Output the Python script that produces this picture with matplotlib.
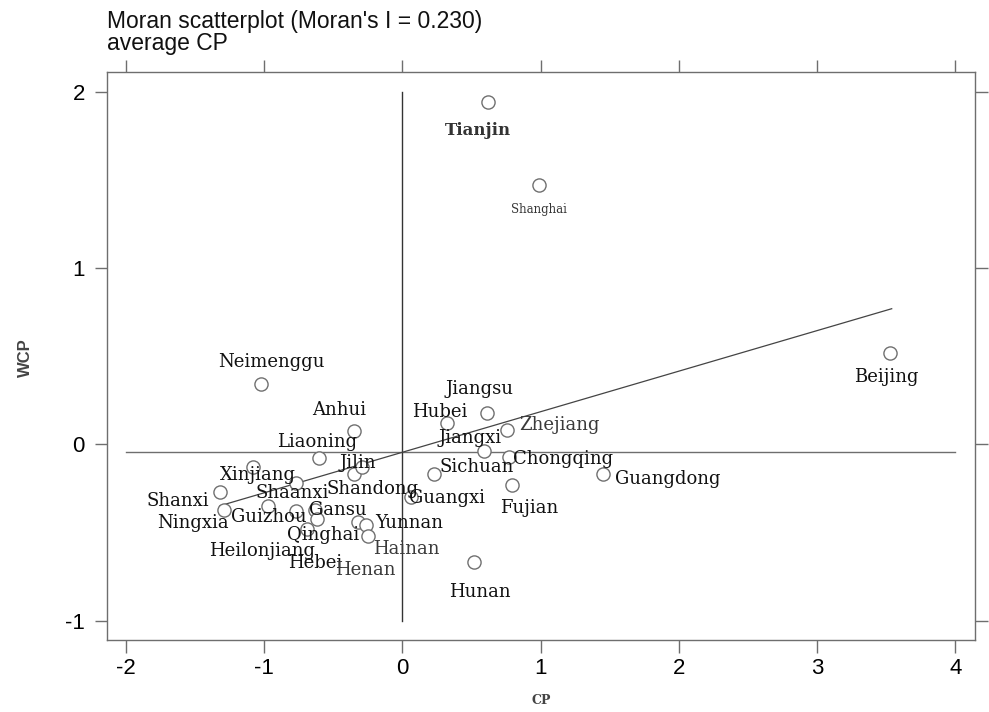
import numpy as np
import matplotlib
matplotlib.use("Agg")
from matplotlib import pyplot as plt

plt.rcParams["axes.unicode_minus"] = False

# standardised CP and its spatial lag WCP for each province
provinces = ["Tianjin", "Shanghai", "Beijing", "Neimenggu", "Anhui", "Liaoning",
             "Xinjiang", "Shaanxi", "Shanxi", "Ningxia", "Guizhou", "Heilonjiang",
             "Gansu", "Hebei", "Jilin", "Shandong", "Qinghai", "Yunnan", "Hainan",
             "Henan", "Guangxi", "Sichuan", "Hunan", "Jiangsu", "Hubei", "Zhejiang",
             "Jiangxi", "Chongqing", "Fujian", "Guangdong"]
cp = [0.62, 0.99, 3.53, -1.02, -0.35, -0.60,
      -1.08, -0.77, -1.32, -1.29, -0.97, -0.77,
      -0.63, -0.62, -0.35, -0.29, -0.69, -0.32, -0.26,
      -0.25, 0.06, 0.23, 0.52, 0.61, 0.32, 0.76,
      0.59, 0.77, 0.79, 1.45]
wcp = [1.94, 1.47, 0.52, 0.34, 0.075, -0.075,
       -0.13, -0.22, -0.27, -0.375, -0.35, -0.38,
       -0.37, -0.425, -0.17, -0.13, -0.48, -0.44, -0.46,
       -0.52, -0.30, -0.17, -0.67, 0.18, 0.12, 0.08,
       -0.04, -0.07, -0.23, -0.17]

moran_i = 0.230
wcp_mean = -0.045
xticks = [-2, -1, 0, 1, 2, 3, 4]
yticks = [-1, 0, 1, 2]

# where each name sits relative to its point (pixels, y up)
label_offset = {
    "Tianjin": (-10, -28), "Shanghai": (0, -24), "Beijing": (-4, -24),
    "Neimenggu": (10, 22), "Anhui": (-15, 21), "Liaoning": (-2, 16),
    "Xinjiang": (5, -8), "Shaanxi": (-4, -10), "Shanxi": (-42, -9),
    "Ningxia": (-31, -13), "Guizhou": (0, -11), "Heilonjiang": (-34, -40),
    "Gansu": (22, 0), "Hebei": (-2, -44), "Jilin": (4, 11),
    "Shandong": (10, -22), "Qinghai": (16, -6), "Yunnan": (51, -1),
    "Hainan": (40, -24), "Henan": (-3, -34), "Guangxi": (36, -1),
    "Sichuan": (43, 7), "Hunan": (6, -30), "Jiangsu": (-7, 24),
    "Hubei": (-7, 11), "Zhejiang": (52, 5), "Jiangxi": (-14, 13),
    "Chongqing": (54, -2), "Fujian": (18, -23), "Guangdong": (65, -5),
}

gray = "#6e6e6e"

fig = plt.figure(figsize=(9.89, 7.12), dpi=100)
ax = fig.add_axes([0.1082, 0.1011, 0.8777, 0.7978])

# quadrant lines
ax.plot([-2, 4], [wcp_mean, wcp_mean], color=gray, lw=1.0)
ax.plot([0, 0], [-1, 2], color="#333333", lw=1.0)

# regression line, slope = Moran's I
xs = np.array([-1.32, 3.54])
ax.plot(xs, wcp_mean + moran_i * xs, color="#444444", lw=0.9)

ax.scatter(cp, wcp, s=90, facecolors="white", edgecolors="#707070",
           linewidths=1.0, zorder=3)

for name, x, y in zip(provinces, cp, wcp):
    dx, dy = label_offset[name]
    size, weight, color = 13, "normal", "#111111"
    if name == "Tianjin":
        size, weight, color = 12, "bold", "#333333"
    elif name == "Shanghai":
        size, color = 8.5, "#333333"
    elif name in ("Zhejiang", "Hainan", "Henan"):
        color = "#3a3a3a"
    ax.annotate(name, (x, y), xytext=(dx, dy), textcoords="offset pixels",
                ha="center", va="center", fontsize=size, fontweight=weight,
                family="DejaVu Serif", color=color, zorder=4)

ax.set_xlim(-2.137, 4.143)
ax.set_ylim(-1.110, 2.112)
ax.set_xticks(xticks)
ax.set_yticks(yticks)
ax.tick_params(axis="both", which="both", direction="out", length=9,
               width=1.0, color=gray, labelsize=16, pad=4,
               top=True, right=True, labeltop=False, labelright=False)
ax.tick_params(axis="y", pad=7)
for lab in ax.get_xticklabels() + ax.get_yticklabels():
    lab.set_family("Liberation Sans")
for sp in ax.spines.values():
    sp.set_color(gray)
    sp.set_linewidth(1.0)

fig.text(25 / 989, 1 - 358 / 712, "WCP", rotation=90, ha="center", va="center",
         fontsize=12, fontweight="bold", family="Liberation Sans", color="#444444")
fig.text(541 / 989, 1 - 700 / 712, "CP", ha="center", va="center",
         fontsize=9, fontweight="bold", family="DejaVu Serif", color="#444444")

fig.text(107 / 989, 1 - 10 / 712, "Moran scatterplot (Moran's I = 0.230)\naverage CP",
         ha="left", va="top", fontsize=16.5, family="Liberation Sans",
         color="#111111", linespacing=0.92)

fig.savefig("out.png", dpi=100)
